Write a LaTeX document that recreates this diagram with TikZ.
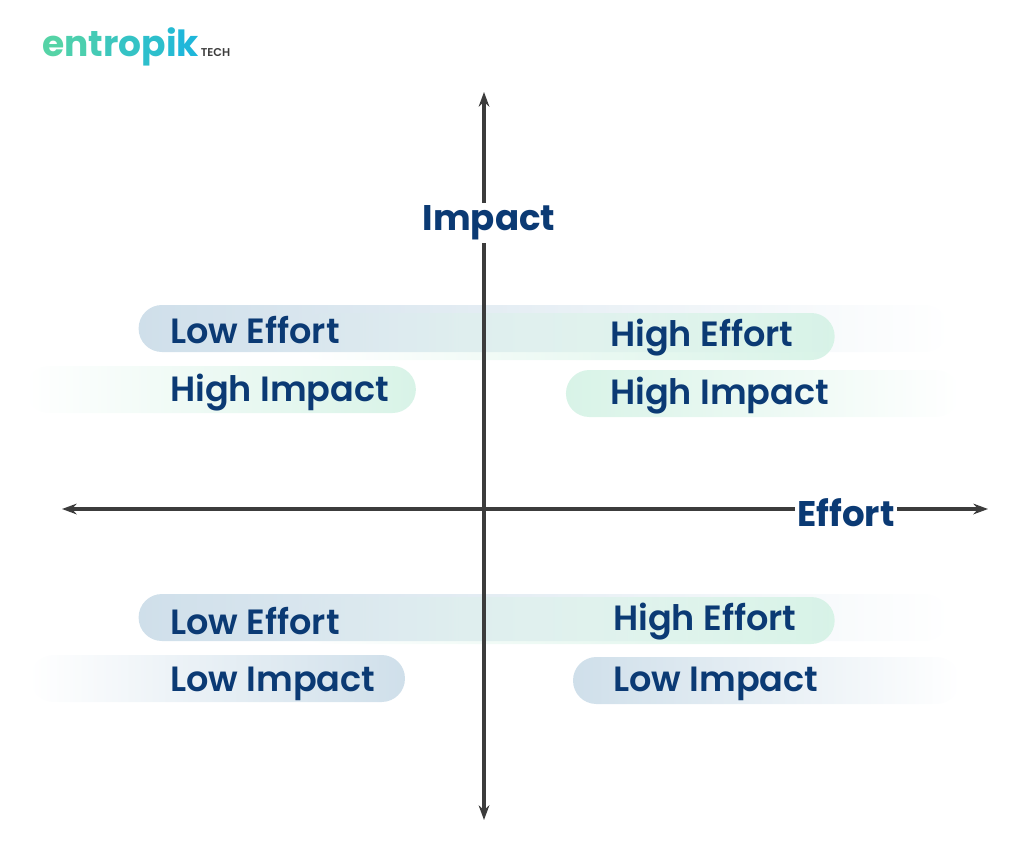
\documentclass[tikz,border=0pt]{standalone}
\usetikzlibrary{arrows.meta,fadings}
\usepackage{fontspec}
\setmainfont{Poppins}
\newfontfamily\popsemi{Poppins SemiBold}
\newfontfamily\popbold{Poppins Bold}
\definecolor{navy}{HTML}{0B3A74}
\definecolor{axisc}{HTML}{3C3C3C}
\definecolor{pblue}{HTML}{CFDFEA}
\definecolor{pgreen}{HTML}{D8F3E7}
\tikzfading[name=fr, left color=transparent!0, right color=transparent!100]
\tikzfading[name=fl, left color=transparent!100, right color=transparent!0]
\begin{document}
\begin{tikzpicture}[x=0.75pt,y=-0.75pt,
  lab/.style={font=\popsemi\fontsize{26.3}{30}\selectfont, text=navy, anchor=west, inner sep=0},
  axlab/.style={font=\popbold\fontsize{26.7}{30}\selectfont, text=navy, fill=white, inner sep=2pt},
  ax/.style={draw=axisc, line width=2.3pt, -{Stealth[length=11pt,width=8pt]}},
  pill/.style={rounded corners=17.5pt},
  pr/.style={pill, fill=#1, path fading=fr},
  pl/.style={pill, fill=#1, path fading=fl}]
\useasboundingbox (0,0) rectangle (1023,842);
% pills
\path[pr=pblue] (139,305) rectangle (950,352);
\path[pl=pgreen] (25,366) rectangle (416,413);
\path[pl=pgreen] (300,313) rectangle (835,360);
\path[pr=pgreen] (566,370) rectangle (960,417);
\path[pr=pblue] (139,594) rectangle (950,641);
\path[pl=pblue] (30,655) rectangle (405,702);
\path[pl=pgreen] (300,597) rectangle (835,644);
\path[pr=pblue] (573,657) rectangle (960,704);
% axes
\coordinate (O) at (484,509);
\coordinate (T) at (484,92); \coordinate (B) at (484,820);
\coordinate (L) at (62,509); \coordinate (R) at (988,509);
\draw[ax] (O) -- (T); \draw[ax] (O) -- (B);
\draw[ax] (O) -- (L); \draw[ax] (O) -- (R);
\node[axlab] (impact) at (489,223) {Impact};
\node[axlab] (effort) at (846,513) {Effort};
% labels
\node[lab] (q1a) at (170,330) {Low Effort};
\node[lab] (q1b) at (170,393) {High Impact};
\node[lab] (q2a) at (610,338) {High Effort};
\node[lab] (q2b) at (610,396) {High Impact};
\node[lab] (q3a) at (170,621) {Low Effort};
\node[lab] (q3b) at (170,684) {Low Impact};
\node[lab] (q4a) at (613,622) {High Effort};
\node[lab] (q4b) at (613,684) {Low Impact};
% logo
\node[anchor=west, inner sep=0, font=\popbold\fontsize{27}{30}\selectfont] (logo) at (42,47)
 {\textcolor[HTML]{55D3A6}{e}\textcolor[HTML]{4CCFAE}{n}\textcolor[HTML]{45CBB5}{t}\textcolor[HTML]{3DC7BD}{r}\textcolor[HTML]{35C3C5}{o}\textcolor[HTML]{2DBFCC}{p}\textcolor[HTML]{26BBD3}{i}\textcolor[HTML]{1FB7DA}{k}};
\node[anchor=base west, inner sep=0, font=\popsemi\fontsize{8.5}{10}\selectfont, text=axisc] (tech) at ([xshift=1pt]logo.base east) {TECH};
\end{tikzpicture}
\end{document}
